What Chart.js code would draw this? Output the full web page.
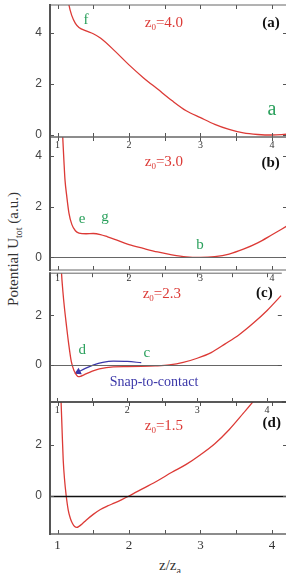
<!DOCTYPE html>
<html>
<head>
<meta charset="utf-8">
<script src="https://cdn.jsdelivr.net/npm/chart.js@4.4.1/dist/chart.umd.min.js"></script>
<style>
  html, body { margin: 0; padding: 0; background: #fff; width: 286px; height: 573px; overflow: hidden; position: relative; }
  canvas { position: absolute; left: 0; }
  .axt { position: absolute; font-family: "Liberation Serif", serif; color: #333; white-space: nowrap; }
  .axt sub { font-size: 10px; }
  #yt { font-size: 15px; left: 14px; top: 249px; transform: translate(-50%, -50%) rotate(-90deg); }
  #xt { font-size: 15px; left: 170px; top: 566px; transform: translate(-50%, -50%); }
</style>
</head>
<body>
<canvas id="pd" width="287" height="150" style="top:400px;z-index:1"></canvas>
<canvas id="pc" width="287" height="148" style="top:268px;z-index:2"></canvas>
<canvas id="pb" width="287" height="149" style="top:135px;z-index:3"></canvas>
<canvas id="pa" width="287" height="151" style="top:0px;z-index:4"></canvas>
<div class="axt" id="yt">Potential U<sub>tot</sub> (a.u.)</div>
<div class="axt" id="xt">z/z<sub>a</sub></div>
<script>
/* ================================================
   DATA  (z/z_a  vs  U_tot, one curve per panel)
================================================ */
const X_TICKS   = [1, 1.5, 2, 2.5, 3, 3.5, 4];
const X_LABELED = [1, 2, 3, 4];

// (a) z0 = 4.0
const zA = [1.13, 1.16, 1.2, 1.25, 1.3, 1.4, 1.5, 1.6, 1.8, 2.0, 2.2, 2.4, 2.6, 2.8, 3.0, 3.2, 3.4, 3.6, 3.8, 4.0, 4.2];
const uA = [5.7, 5.1, 4.68, 4.38, 4.22, 4.08, 3.97, 3.8, 3.3, 2.75, 2.25, 1.8, 1.35, 0.95, 0.68, 0.42, 0.22, 0.08, 0.02, 0.0, 0.03];

// (b) z0 = 3.0
const zB = [1.06, 1.073, 1.09, 1.105, 1.13, 1.16, 1.2, 1.25, 1.3, 1.4, 1.5, 1.6, 1.7, 1.8, 2.0, 2.2, 2.4, 2.6, 2.8, 3.0, 3.2, 3.4, 3.6, 3.8, 4.0, 4.2];
const uB = [5.6, 4.75, 3.8, 3.05, 2.4, 1.75, 1.3, 1.05, 0.96, 0.93, 0.94, 0.9, 0.81, 0.71, 0.5, 0.35, 0.21, 0.1, 0.02, 0.0, 0.03, 0.13, 0.32, 0.57, 0.89, 1.22];

// (c) z0 = 2.3
const zC = [1.04, 1.06, 1.08, 1.1, 1.13, 1.16, 1.2, 1.24, 1.28, 1.3, 1.33, 1.38, 1.5, 1.6, 1.8, 2.0, 2.2, 2.4, 2.6, 2.8, 3.0, 3.2, 3.4, 3.6, 3.8, 4.0, 4.2];
const uC = [5.0, 3.7, 2.95, 2.35, 1.6, 0.9, 0.13, -0.24, -0.43, -0.47, -0.46, -0.4, -0.25, -0.16, -0.08, -0.07, -0.06, -0.04, 0.0, 0.1, 0.27, 0.5, 0.85, 1.22, 1.68, 2.2, 2.8];

// snap-to-contact arrow (panel c)
const arrowZ = [2.2, 2.0, 1.8, 1.65, 1.52, 1.4, 1.3];
const arrowU = [0.09, 0.14, 0.15, 0.1, 0.0, -0.14, -0.28];

// (d) z0 = 1.5
const zD = [1.03, 1.05, 1.065, 1.08, 1.1, 1.12, 1.15, 1.18, 1.21, 1.24, 1.27, 1.3, 1.35, 1.4, 1.5, 1.6, 1.7, 1.8, 1.9, 2.0, 2.2, 2.4, 2.6, 2.8, 3.0, 3.2, 3.4, 3.6, 3.75, 3.9];
const uD = [5.2, 3.7, 2.5, 1.4, 0.6, 0.05, -0.55, -0.88, -1.08, -1.2, -1.23, -1.19, -1.08, -0.95, -0.72, -0.53, -0.39, -0.27, -0.14, 0.0, 0.3, 0.6, 0.93, 1.24, 1.62, 2.05, 2.6, 3.25, 3.75, 4.3];

/* ================================================
   STYLE
================================================ */
const RED   = '#dc3a36';
const GREEN = '#2aa05c';
const BLUE  = '#3b37a8';
const FONT  = '"Liberation Serif", serif';
const X_MIN = 0.895, X_MAX = 4.21;

const pts = (xs, ys) => xs.map((x, i) => ({ x, y: ys[i] }));

/* frame, inward ticks, zero line */
const framePlugin = {
  id: 'frame',
  afterDatasetsDraw(chart, args, o) {
    const { ctx, chartArea: a, scales: { x, y } } = chart;
    const line = (x1, y1, x2, y2) => { ctx.beginPath(); ctx.moveTo(x1, y1); ctx.lineTo(x2, y2); ctx.stroke(); };
    ctx.save();
    if (o.zeroColor) {
      const zy = Math.round(y.getPixelForValue(0)) + 0.5;
      ctx.strokeStyle = o.zeroColor; ctx.lineWidth = o.zeroWidth;
      line(a.left, zy, a.right, zy);
    }
    ctx.strokeStyle = '#555'; ctx.lineWidth = 1;
    x.ticks.forEach(t => {
      const px = Math.round(x.getPixelForValue(t.value)) + 0.5;
      line(px, a.bottom, px, a.bottom - 4);
      line(px, a.top, px, a.top + 4);
    });
    y.ticks.forEach(t => {
      const py = Math.round(y.getPixelForValue(t.value)) + 0.5;
      line(a.left, py, a.left + 4, py);
      line(a.right, py, a.right - 4, py);
    });
    // top / bottom borders
    ctx.strokeStyle = o.topColor; ctx.lineWidth = o.topWidth;
    line(a.left, a.top, a.right, a.top);
    ctx.strokeStyle = o.bottomColor; ctx.lineWidth = o.bottomWidth;
    line(a.left, a.bottom, a.right, a.bottom);
    // left axis
    ctx.strokeStyle = '#555'; ctx.lineWidth = 2;
    line(a.left, a.top - 1, a.left, a.bottom + 1);
    ctx.restore();
  }
};

/* text annotations in data coordinates, with subscripts */
const notesPlugin = {
  id: 'notes',
  afterDraw(chart, args, o) {
    const { ctx, scales: { x, y } } = chart;
    ctx.save();
    ctx.textBaseline = 'middle';
    ctx.textAlign = 'left';
    (o.items || []).forEach(n => {
      const w8 = n.bold ? 'bold' : 'normal';
      const big = `${w8} ${n.size}px ${FONT}`;
      const small = `${w8} ${Math.round(n.size * 0.62)}px ${FONT}`;
      let w = 0;
      n.parts.forEach(([t, sub]) => { ctx.font = sub ? small : big; w += ctx.measureText(t).width; });
      const px = x.getPixelForValue(n.x), py = y.getPixelForValue(n.y);
      let cx = n.align === 'right' ? px - w : n.align === 'center' ? px - w / 2 : px;
      ctx.fillStyle = n.color;
      n.parts.forEach(([t, sub]) => {
        ctx.font = sub ? small : big;
        ctx.fillText(t, cx, sub ? py + n.size * 0.3 : py);
        cx += ctx.measureText(t).width;
      });
    });
    ctx.restore();
  }
};

function makePanel(id, p) {
  const datasets = [{
    data: pts(p.z, p.u),
    borderColor: RED,
    borderWidth: 1.3,
    pointRadius: 0,
    cubicInterpolationMode: 'monotone',
  }].concat(p.extra || []);

  return new Chart(document.getElementById(id), {
    type: 'line',
    data: { datasets },
    options: {
      responsive: false,
      animation: false,
      layout: { padding: { top: p.padTop, right: 0, bottom: 0, left: 0 } },
      plugins: {
        legend: { display: false },
        tooltip: { enabled: false },
        frame: p.frame,
        notes: { items: p.notes },
      },
      scales: {
        x: {
          type: 'linear', min: X_MIN, max: X_MAX,
          grid: { display: false, drawTicks: false },
          border: { display: false },
          afterBuildTicks: s => { s.ticks = X_TICKS.map(v => ({ value: v })); },
          afterFit: s => { s.height = p.xHeight; s.paddingLeft = 0; s.paddingRight = 0; },
          ticks: {
            autoSkip: false, maxRotation: 0, padding: p.xPad,
            color: '#333', font: { family: FONT, size: p.xFont },
            callback: v => X_LABELED.includes(v) ? String(v) : '',
          },
        },
        y: {
          type: 'linear', min: p.yMin, max: p.yMax,
          grid: { display: false, drawTicks: false },
          border: { display: false },
          afterBuildTicks: s => { s.ticks = p.yTicks.map(v => ({ value: v })); },
          afterFit: s => { s.width = 50; s.paddingTop = 0; s.paddingBottom = 0; },
          ticks: { padding: 8, color: '#444', font: { family: '"Liberation Sans", sans-serif', size: 12 } },
        },
      },
    },
    plugins: [framePlugin, notesPlugin],
  });
}

const grayFrame = { topColor: '#666', topWidth: 1, bottomColor: '#666', bottomWidth: 1 };

makePanel('pa', {
  z: zA, u: uA, padTop: 5, xHeight: 14, xPad: 2, xFont: 10,
  yMin: -0.078, yMax: 5.098, yTicks: [0, 2, 4],
  frame: { ...grayFrame },
  notes: [
    { parts: [['f']], x: 1.40, y: 4.51, color: GREEN, size: 15, align: 'center' },
    { parts: [['z'], ['0', 1], ['=4.0']], x: 2.22, y: 4.39, color: RED, size: 15, align: 'left' },
    { parts: [['(a)']], x: 4.11, y: 4.39, color: '#111', size: 15, bold: true, align: 'right' },
    { parts: [['a']], x: 4.0, y: 0.98, color: GREEN, size: 20, align: 'center' },
  ],
});

makePanel('pb', {
  z: zB, u: uB, padTop: 2, xHeight: 14, xPad: 2, xFont: 10,
  yMin: -0.502, yMax: 4.755, yTicks: [0, 2, 4],
  frame: { ...grayFrame, zeroColor: '#666', zeroWidth: 1 },
  notes: [
    { parts: [['z'], ['0', 1], ['=3.0']], x: 2.22, y: 3.77, color: RED, size: 15, align: 'left' },
    { parts: [['(b)']], x: 4.11, y: 3.73, color: '#111', size: 15, bold: true, align: 'right' },
    { parts: [['e']], x: 1.343, y: 1.51, color: GREEN, size: 15, align: 'center' },
    { parts: [['g']], x: 1.664, y: 1.59, color: GREEN, size: 15, align: 'center' },
    { parts: [['b']], x: 2.993, y: 0.49, color: GREEN, size: 15, align: 'center' },
  ],
});

makePanel('pc', {
  z: zC, u: uC, padTop: 2, xHeight: 14, xPad: 2, xFont: 10,
  yMin: -1.499, yMax: 3.708, yTicks: [0, 2],
  frame: { ...grayFrame, zeroColor: '#666', zeroWidth: 1 },
  extra: [{
    data: pts(arrowZ, arrowU),
    borderColor: BLUE,
    borderWidth: 1.2,
    cubicInterpolationMode: 'monotone',
    pointRadius: c => c.dataIndex === arrowZ.length - 1 ? 3 : 0,
    pointStyle: 'triangle',
    pointRotation: 244,
    pointBackgroundColor: BLUE,
    pointBorderColor: BLUE,
  }],
  notes: [
    { parts: [['z'], ['0', 1], ['=2.3']], x: 2.22, y: 2.85, color: RED, size: 15, align: 'left' },
    { parts: [['(c)']], x: 4.08, y: 2.89, color: '#111', size: 15, bold: true, align: 'right' },
    { parts: [['d']], x: 1.357, y: 0.59, color: GREEN, size: 15, align: 'center' },
    { parts: [['c']], x: 2.28, y: 0.47, color: GREEN, size: 15, align: 'center' },
    { parts: [['Snap-to-contact']], x: 1.748, y: -0.71, color: BLUE, size: 14, align: 'left' },
  ],
});

makePanel('pd', {
  z: zD, u: uD, padTop: 2, xHeight: 16, xPad: 4, xFont: 13,
  yMin: -1.49, yMax: 3.686, yTicks: [0, 2],
  frame: { topColor: '#111', topWidth: 1.6, bottomColor: '#666', bottomWidth: 1.5, zeroColor: '#111', zeroWidth: 1.5 },
  notes: [
    { parts: [['z'], ['0', 1], ['=1.5']], x: 2.22, y: 2.75, color: RED, size: 15, align: 'left' },
    { parts: [['(d)']], x: 4.125, y: 2.86, color: '#111', size: 15, bold: true, align: 'right' },
  ],
});
</script>
</body>
</html>
